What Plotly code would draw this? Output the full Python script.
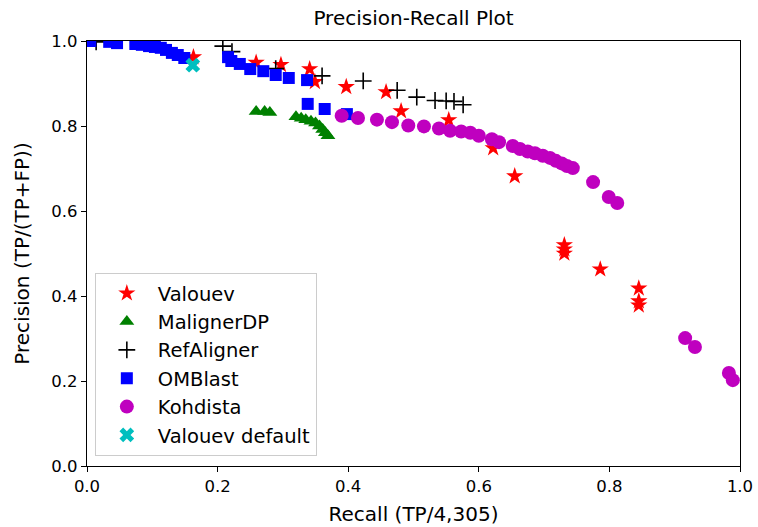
import plotly.graph_objects as go

valouev_x = [0.163, 0.259, 0.297, 0.341, 0.349, 0.397, 0.458, 0.481, 0.554, 0.622, 0.655, 0.731, 0.731, 0.731, 0.786, 0.845, 0.845, 0.845]
valouev_y = [0.962, 0.949, 0.944, 0.934, 0.904, 0.892, 0.880, 0.835, 0.814, 0.748, 0.682, 0.520, 0.510, 0.500, 0.463, 0.418, 0.388, 0.378]

maligner_x = [0.259, 0.272, 0.280, 0.320, 0.328, 0.335, 0.343, 0.350, 0.356, 0.361, 0.365, 0.369]
maligner_y = [0.834, 0.834, 0.832, 0.822, 0.818, 0.815, 0.811, 0.807, 0.800, 0.792, 0.784, 0.777]

refaligner_x = [0.014, 0.208, 0.222, 0.289, 0.360, 0.423, 0.475, 0.505, 0.533, 0.550, 0.562, 0.576]
refaligner_y = [0.998, 0.988, 0.975, 0.935, 0.918, 0.906, 0.884, 0.868, 0.860, 0.859, 0.858, 0.850]

omblast_x = [0.005, 0.034, 0.046, 0.074, 0.084, 0.095, 0.104, 0.113, 0.121, 0.130, 0.139, 0.149,
             0.216, 0.221, 0.234, 0.250, 0.270, 0.289, 0.309, 0.337, 0.338, 0.364, 0.398]
omblast_y = [1.000, 0.998, 0.995, 0.993, 0.991, 0.988, 0.986, 0.984, 0.979, 0.972, 0.967, 0.960,
             0.962, 0.953, 0.946, 0.934, 0.929, 0.920, 0.913, 0.908, 0.852, 0.840, 0.828]

kohdista_x = [0.390, 0.415, 0.444, 0.467, 0.492, 0.516, 0.539, 0.556, 0.573, 0.587, 0.600, 0.620, 0.631,
              0.652, 0.663, 0.675, 0.686, 0.698, 0.709, 0.718, 0.727, 0.735, 0.744, 0.775, 0.799, 0.812,
              0.916, 0.931, 0.983, 0.989]
kohdista_y = [0.824, 0.819, 0.815, 0.809, 0.801, 0.799, 0.794, 0.789, 0.787, 0.784, 0.777, 0.769, 0.762,
              0.753, 0.746, 0.740, 0.736, 0.730, 0.725, 0.718, 0.712, 0.706, 0.701, 0.668, 0.633, 0.619,
              0.301, 0.280, 0.219, 0.202]

default_x = [0.162]
default_y = [0.943]

tick_vals = [0.0, 0.2, 0.4, 0.6, 0.8, 1.0]
tick_text = ["0.0", "0.2", "0.4", "0.6", "0.8", "1.0"]

series = [
    ("Valouev", valouev_x, valouev_y, dict(symbol="star", size=13, color="#FF0000")),
    ("MalignerDP", maligner_x, maligner_y, dict(symbol="triangle-up", size=13, color="#008000")),
    ("RefAligner", refaligner_x, refaligner_y, dict(symbol="cross-thin", size=12, color="#000000",
                                                     line=dict(color="#000000", width=1.6))),
    ("OMBlast", omblast_x, omblast_y, dict(symbol="square", size=12, color="#0000FF")),
    ("Kohdista", kohdista_x, kohdista_y, dict(symbol="circle", size=14, color="#BF00BF")),
    ("Valouev default", default_x, default_y, dict(symbol="x", size=13, color="#00BFBF")),
]

fig = go.Figure()
for i, (name, xs, ys, mk) in enumerate(series):
    fig.add_trace(go.Scatter(x=xs, y=ys, mode="markers", name=name, marker=mk,
                             legendgroup=f"g{i}", cliponaxis=True))

font = "DejaVu Sans, sans-serif"
fig.update_layout(
    width=758, height=527,
    margin=dict(l=87, r=18, t=41, b=61),
    paper_bgcolor="white", plot_bgcolor="white",
    font=dict(family=font, size=16.5, color="black"),
    title=dict(text="Precision-Recall Plot", x=0.5, xref="paper", xanchor="center", y=1 - 18 / 527,
               yanchor="middle", yref="container", font=dict(size=20)),
    legend=dict(x=0.012, y=0.0235, xanchor="left", yanchor="bottom",
                bgcolor="rgba(255,255,255,0.8)", bordercolor="#CCCCCC", borderwidth=1,
                tracegroupgap=0, traceorder="grouped", itemwidth=52, font=dict(size=19.5)),
    showlegend=True,
)
fig.update_xaxes(range=[0, 1], tickvals=tick_vals, ticktext=tick_text, showgrid=False, zeroline=False,
                 showline=True, linecolor="black", linewidth=1.3, mirror=True,
                 ticks="outside", ticklen=5, tickcolor="black", automargin=False,
                 title=dict(text="Recall (TP/4,305)", standoff=12))
fig.update_yaxes(range=[0, 1], tickvals=tick_vals, ticktext=tick_text, showgrid=False, zeroline=False,
                 showline=True, linecolor="black", linewidth=1.3, mirror=True,
                 ticks="outside", ticklen=5, tickcolor="black", automargin=False,
                 title=dict(text="Precision (TP/(TP+FP))", standoff=16))

fig.write_html("out.html", config={"displayModeBar": False},
               post_script="document.body.style.margin='0';document.body.style.overflow='hidden';")
